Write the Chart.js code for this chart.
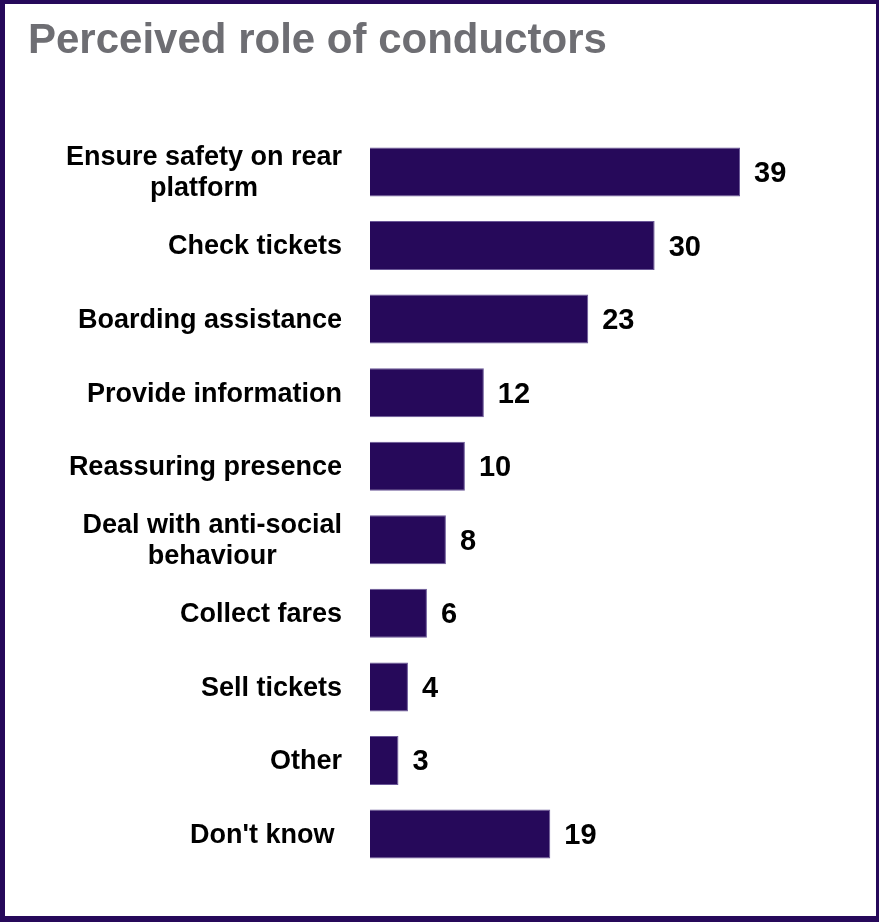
<!DOCTYPE html>
<html>
<head>
<meta charset="utf-8">
<title>Perceived role of conductors</title>
<script src="https://cdn.jsdelivr.net/npm/chart.js@4/dist/chart.umd.min.js"></script>
<style>
  html, body { margin: 0; padding: 0; background: #ffffff; }
  #wrap { position: relative; width: 879px; height: 922px; }
</style>
</head>
<body>
<div id="wrap"><canvas id="chart" width="879" height="922"></canvas></div>
<script>
// Survey answers: share of respondents naming each role (%)
const categories = [
  ["Ensure safety on rear", "platform"],
  "Check tickets",
  "Boarding assistance",
  "Provide information",
  "Reassuring presence",
  ["Deal with anti-social", "behaviour"],
  "Collect fares",
  "Sell tickets",
  "Other",
  "Don't know "
];
const values = [39, 30, 23, 12, 10, 8, 6, 4, 3, 19];
const titleText = "Perceived role of conductors";

const PURPLE = "#26095a";
const FONT = "'Liberation Sans', Arial, Helvetica, sans-serif";

// White page with a dark purple frame
const framePlugin = {
  id: "frame",
  beforeDraw(chart) {
    const ctx = chart.ctx, w = chart.width, h = chart.height;
    ctx.save();
    ctx.fillStyle = "#ffffff";
    ctx.fillRect(0, 0, w, h);
    ctx.fillStyle = PURPLE;
    ctx.fillRect(0, 0, w, 4);        // top
    ctx.fillRect(0, 0, 5, h);        // left
    ctx.fillRect(w - 3, 0, 3, h);    // right
    ctx.fillRect(0, h - 6, w, 6);    // bottom
    ctx.restore();
  }
};

// Category names: block right-aligned against the axis, lines centred within the block
const categoryLabelPlugin = {
  id: "categoryLabels",
  afterDraw(chart) {
    const y = chart.scales.y;
    const ctx = chart.ctx;
    const rightEdge = chart.chartArea.left - 28;
    const lineH = 31;
    ctx.save();
    ctx.font = "bold 27px " + FONT;
    ctx.fillStyle = "#000000";
    ctx.textBaseline = "middle";
    chart.data.labels.forEach((lab, i) => {
      const lines = Array.isArray(lab) ? lab : [lab];
      const cy = y.getPixelForTick(i) + 1.5;
      if (lines.length === 1) {
        ctx.textAlign = "right";
        ctx.fillText(lines[0], rightEdge, cy);
        return;
      }
      const wMax = Math.max(...lines.map(l => ctx.measureText(l).width));
      const cx = rightEdge - wMax / 2;
      ctx.textAlign = "center";
      lines.forEach((l, k) => {
        const off = (k - (lines.length - 1) / 2) * lineH;
        ctx.fillText(l, cx, cy + off);
      });
    });
    ctx.restore();
  }
};

// Value at the end of each bar
const valueLabelPlugin = {
  id: "valueLabels",
  afterDatasetsDraw(chart) {
    const ctx = chart.ctx;
    const meta = chart.getDatasetMeta(0);
    const data = chart.data.datasets[0].data;
    ctx.save();
    ctx.font = "bold 29px " + FONT;
    ctx.fillStyle = "#000000";
    ctx.textAlign = "left";
    ctx.textBaseline = "middle";
    meta.data.forEach((bar, i) => {
      ctx.fillText(String(data[i]), bar.x + 14, bar.y + 2);
    });
    ctx.restore();
  }
};

new Chart(document.getElementById("chart"), {
  type: "bar",
  data: {
    labels: categories,
    datasets: [{
      data: values,
      backgroundColor: PURPLE,
      borderColor: "#6a5797",
      borderWidth: 1,
      borderSkipped: "left",
      barPercentage: 0.666,
      categoryPercentage: 1.0
    }]
  },
  options: {
    indexAxis: "y",
    responsive: false,
    animation: false,
    devicePixelRatio: 1,
    layout: { padding: { left: 28, right: 34.6, top: 0, bottom: 51.2 } },
    plugins: {
      legend: { display: false },
      tooltip: { enabled: false },
      title: {
        display: true,
        text: titleText,
        align: "start",
        color: "#6e6e73",
        font: { family: FONT, size: 42, weight: "bold", lineHeight: 1.2 },
        padding: { top: 16, bottom: 68.8 }
      }
    },
    scales: {
      x: { display: false, min: 0, max: 50 },
      y: {
        display: true,
        grid: { display: false },
        border: { display: false },
        ticks: { display: false },
        afterFit(scale) { scale.width = 342; }
      }
    }
  },
  plugins: [framePlugin, categoryLabelPlugin, valueLabelPlugin]
});
</script>
</body>
</html>
